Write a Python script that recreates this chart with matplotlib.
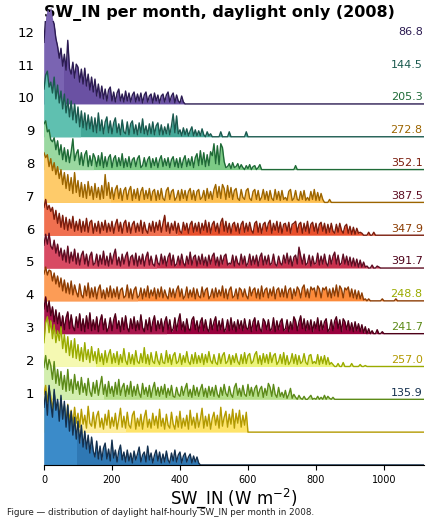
import numpy as np
import matplotlib.pyplot as plt
from matplotlib.patches import Rectangle

# SW_IN histograms, 5 W m-2 bins, daylight half-hours, 2008
BIN_W = 5
X_MAX = 1118

months = list(range(1, 13))
month_mean = [135.9, 257.0, 241.7, 248.8, 391.7, 347.9, 387.5, 352.1, 272.8, 205.3, 144.5, 86.8]
month_median = [94, 238, 174, 150, 360, 273, 330, 390, 194, 145, 106, 55]

# relative frequency per bin (33 = one ridge step)
freq_jan = [58, 74, 50, 80, 62, 48, 76, 55, 66, 44,
            70, 46, 64, 38, 60, 34, 54, 30, 48, 26,
            44, 22, 40, 18, 34, 16, 30, 12, 28, 14,
            8, 24, 6, 19, 5, 17, 22, 6, 16, 4,
            25, 7, 15, 3, 14, 20, 5, 13, 3, 15,
            4, 12, 2, 14, 5, 11, 18, 3, 10, 13,
            3, 19, 5, 12, 2, 10, 15, 4, 13, 2,
            11, 3, 14, 5, 2, 12, 4, 15, 3, 10,
            13, 2, 9, 12, 3, 8, 11, 2, 9, 3,
            8, 2]
freq_feb = [38, 47, 30, 44, 36, 22, 40, 18, 30, 14,
            34, 12, 26, 9, 28, 11, 22, 7, 25, 9,
            19, 5, 23, 8, 17, 4, 26, 9, 6, 20,
            4, 16, 21, 5, 14, 3, 18, 7, 22, 4,
            15, 6, 19, 3, 13, 24, 5, 16, 4, 20,
            7, 4, 17, 21, 3, 14, 6, 18, 3, 15,
            22, 5, 13, 4, 19, 7, 16, 4, 23, 6,
            14, 3, 18, 7, 4, 20, 8, 3, 16, 5,
            21, 4, 14, 6, 17, 3, 22, 7, 15, 4,
            19, 5, 13, 24, 4, 16, 6, 18, 3, 14,
            20, 7, 17, 4, 25, 6, 15, 21, 5, 18,
            8, 23, 4, 19, 9, 22, 5, 17, 7, 20]
freq_mar = [32, 44, 30, 40, 34, 20, 38, 16, 30, 14,
            28, 10, 24, 8, 30, 9, 20, 6, 25, 10,
            18, 5, 22, 7, 16, 4, 21, 8, 3, 17,
            6, 19, 4, 14, 23, 5, 15, 3, 18, 6,
            13, 3, 17, 5, 20, 4, 12, 16, 3, 14,
            5, 18, 3, 13, 4, 15, 6, 2, 16, 5,
            12, 3, 14, 2, 11, 17, 4, 12, 3, 13,
            5, 15, 2, 11, 4, 14, 3, 2, 12, 5,
            3, 13, 4, 11, 16, 3, 10, 2, 14, 4,
            12, 3, 10, 15, 3, 11, 2, 13, 4, 12,
            3, 14, 5, 2, 12, 4, 15, 6, 3, 13,
            5, 2, 12, 16, 4, 11, 3, 14, 5, 3,
            15, 4, 12, 3, 11, 14, 3, 10, 13, 2,
            11, 4, 16, 12, 3, 15, 5, 2, 12, 3,
            7, 2, 9, 1, 5, 11, 1, 5, 2, 0,
            4, 1, 0, 3, 0, 0, 2, 4, 0, 1,
            0, 3, 0, 2, 0, 4, 0, 3, 1, 0,
            2, 0]
freq_apr = [24, 44, 50, 34, 46, 28, 42, 24, 36, 26,
            40, 18, 32, 14, 30, 11, 26, 9, 28, 8,
            22, 6, 19, 5, 24, 7, 17, 4, 20, 6,
            15, 3, 18, 5, 13, 2, 16, 4, 12, 17,
            3, 13, 4, 15, 2, 12, 4, 18, 6, 2,
            14, 3, 12, 2, 16, 5, 3, 13, 4, 19,
            3, 12, 2, 14, 5, 3, 15, 6, 2, 13,
            4, 3, 16, 4, 12, 2, 11, 14, 3, 5,
            13, 2, 11, 4, 15, 5, 2, 12, 3, 14,
            3, 11, 4, 13, 2, 12, 4, 15, 6, 3,
            12, 4, 2, 13, 3, 11, 14, 3, 5, 12,
            2, 11, 4, 13, 5, 2, 12, 3, 14, 3,
            11, 13, 3, 5, 12, 15, 3, 11, 2, 13,
            4, 12, 3, 14, 4, 11, 13, 2, 5, 12,
            3, 14, 2, 11, 2, 5, 13, 3, 12, 2,
            11, 3, 5, 13, 4, 2, 11, 12, 3, 5,
            3, 12, 2, 10, 3, 11, 2, 9, 2, 4,
            2, 0, 0, 3, 0, 0, 4, 0, 0, 0,
            0, 3, 0, 0, 0, 0, 2, 0, 0, 1]
freq_may = [25, 37, 22, 33, 18, 27, 12, 24, 10, 21,
            6, 18, 4, 16, 22, 5, 19, 7, 3, 17,
            6, 20, 3, 15, 2, 18, 5, 21, 3, 14,
            4, 17, 2, 13, 19, 4, 15, 2, 6, 16,
            3, 14, 20, 5, 13, 2, 16, 4, 18, 6,
            2, 15, 5, 17, 3, 13, 4, 19, 6, 2,
            14, 4, 16, 2, 12, 18, 3, 13, 5, 15,
            2, 12, 17, 4, 14, 2, 5, 16, 3, 13,
            20, 4, 12, 2, 15, 5, 3, 14, 17, 4,
            13, 2, 12, 16, 3, 14, 5, 2, 15, 4,
            12, 17, 3, 13, 4, 15, 2, 5, 14, 3,
            16, 4, 12, 2, 14, 5, 13, 3, 15, 6,
            4, 14, 2, 12, 16, 3, 13, 5, 2, 15,
            12, 4, 14, 3, 5, 16, 2, 13, 4, 12,
            15, 3, 5, 14, 2, 12, 4, 17, 13, 3,
            12, 18, 5, 15, 3, 13, 4, 14, 2, 12,
            5, 16, 3, 13, 4, 12, 15, 2, 5, 14,
            3, 13, 17, 5, 14, 2, 15, 12, 4, 13,
            3, 11, 2, 12, 3, 10, 2, 9, 1, 7,
            0, 5, 0, 3, 0, 0, 4, 0, 0, 2]
freq_jun = [27, 34, 26, 31, 30, 20, 28, 17, 25, 14,
            23, 10, 21, 8, 18, 7, 20, 6, 16, 9,
            4, 17, 6, 3, 15, 5, 18, 3, 13, 4,
            14, 2, 12, 16, 3, 11, 2, 13, 4, 15,
            3, 12, 4, 14, 2, 11, 13, 3, 5, 16,
            3, 12, 2, 11, 14, 3, 5, 13, 2, 12,
            4, 15, 3, 11, 5, 13, 2, 12, 4, 14,
            3, 11, 5, 2, 13, 4, 12, 3, 11, 15,
            4, 12, 2, 5, 14, 3, 11, 4, 13, 2,
            12, 5, 3, 14, 4, 11, 13, 2, 5, 12,
            3, 13, 4, 11, 5, 15, 3, 12, 2, 11,
            14, 3, 5, 12, 2, 13, 11, 4, 12, 5,
            2, 14, 5, 11, 13, 3, 12, 2, 15, 4,
            11, 13, 3, 12, 5, 14, 2, 11, 13, 4,
            12, 4, 15, 3, 11, 13, 2, 12, 5, 14,
            11, 3, 13, 16, 4, 12, 3, 14, 11, 13,
            4, 15, 12, 3, 13, 11, 14, 4, 12, 3,
            13, 5, 16, 4, 15, 12, 3, 13, 11, 14,
            4, 12, 3, 11, 2, 10, 2, 8, 1, 2,
            0, 2, 0, 0, 0, 0, 0, 0, 0, 2,
            0, 0, 0, 0, 0, 0, 0, 2]
freq_jul = [23, 34, 24, 35, 22, 19, 28, 15, 24, 12,
            20, 8, 18, 6, 22, 5, 16, 7, 19, 4,
            15, 3, 13, 17, 4, 14, 2, 12, 16, 3,
            5, 14, 2, 13, 4, 17, 3, 12, 2, 15,
            4, 13, 19, 3, 11, 2, 14, 4, 12, 16,
            2, 11, 13, 3, 15, 2, 12, 4, 14, 2,
            11, 16, 3, 12, 4, 2, 13, 5, 3, 14,
            4, 12, 2, 11, 15, 3, 13, 2, 4, 12,
            3, 14, 5, 2, 12, 4, 16, 3, 11, 13,
            2, 12, 4, 14, 3, 11, 2, 13, 4, 12,
            15, 3, 11, 2, 13, 4, 12, 14, 3, 5,
            4, 13, 2, 12, 5, 3, 14, 4, 12, 2,
            5, 14, 3, 12, 4, 13, 2, 11, 15, 3,
            12, 4, 13, 3, 5, 14, 4, 2, 12, 5,
            3, 13, 5, 15, 4, 12, 2, 11, 13, 4,
            21, 12, 4, 14, 3, 5, 13, 2, 12, 4,
            5, 15, 3, 12, 4, 14, 5, 2, 13, 4,
            12, 16, 4, 13, 3, 5, 14, 4, 12, 3,
            11, 2, 10, 2, 9, 1, 8, 1, 6, 1,
            2, 0, 0, 3, 0, 0, 2, 1]
freq_aug = [28, 36, 26, 30, 24, 28, 16, 25, 12, 22,
            8, 20, 6, 18, 5, 16, 7, 19, 4, 14,
            5, 16, 3, 14, 4, 17, 3, 13, 15, 2,
            12, 4, 14, 2, 13, 5, 15, 3, 12, 4,
            14, 2, 11, 16, 4, 13, 2, 12, 15, 3,
            13, 2, 11, 14, 3, 12, 4, 15, 2, 13,
            5, 2, 12, 4, 14, 3, 13, 5, 15, 3,
            12, 20, 4, 13, 2, 12, 5, 14, 2, 12,
            4, 2, 13, 5, 12, 2, 11, 14, 3, 12,
            4, 13, 2, 12, 5, 15, 3, 13, 2, 11,
            14, 4, 12, 2, 13, 17, 4, 14, 3, 12,
            2, 11, 13, 4, 12, 2, 11, 14, 3, 12,
            4, 13, 5, 2, 12, 14, 3, 12, 2, 11,
            13, 4, 12, 15, 2, 12, 5, 14, 3, 13,
            2, 11, 12, 4, 13, 2, 11, 12, 14, 3,
            11, 13, 2, 12, 4, 14, 2, 11, 13, 4,
            12, 2, 11, 13, 4, 12, 2, 11, 3, 12,
            4, 2, 11, 3, 12, 5, 2, 9, 11, 2,
            9, 1, 8, 1, 7, 2, 3, 2, 0, 0,
            0, 3, 0, 0, 3]
freq_sep = [50, 45, 48, 36, 44, 32, 40, 28, 36, 24,
            33, 18, 30, 14, 28, 12, 25, 9, 30, 10,
            22, 6, 20, 5, 18, 4, 21, 7, 16, 3,
            19, 5, 15, 3, 17, 4, 28, 7, 20, 4,
            15, 3, 13, 17, 4, 14, 2, 12, 15, 3,
            12, 16, 2, 13, 4, 14, 2, 11, 15, 3,
            12, 4, 14, 2, 11, 13, 2, 12, 3, 14,
            4, 2, 12, 15, 3, 11, 13, 2, 5, 12,
            2, 13, 4, 12, 2, 11, 14, 3, 12, 2,
            11, 13, 3, 5, 12, 2, 14, 4, 11, 3,
            13, 18, 5, 16, 4, 18, 14, 3, 17, 5,
            15, 3, 12, 14, 4, 2, 13, 5, 3, 12,
            14, 4, 2, 11, 13, 3, 12, 2, 5, 13,
            3, 11, 2, 12, 4, 2, 13, 3, 11, 2,
            12, 3, 5, 2, 11, 13, 2, 4, 12, 3,
            2, 11, 3, 12, 2, 5, 2, 11, 3, 13,
            2, 10, 2, 9, 3, 0, 0, 0, 3]
freq_oct = [46, 49, 38, 40, 30, 28, 32, 20, 29, 15,
            25, 10, 22, 8, 20, 7, 18, 31, 9, 16,
            20, 5, 17, 4, 15, 19, 3, 14, 4, 16,
            12, 3, 14, 4, 17, 2, 13, 3, 12, 15,
            2, 11, 14, 3, 12, 4, 16, 2, 11, 3,
            13, 2, 10, 12, 3, 11, 14, 2, 4, 12,
            3, 10, 13, 2, 11, 4, 12, 2, 10, 14,
            3, 11, 4, 12, 2, 10, 13, 3, 11, 2,
            12, 2, 10, 14, 3, 11, 4, 13, 2, 12,
            16, 4, 19, 5, 17, 3, 15, 4, 18, 14,
            26, 6, 24, 5, 26, 22, 8, 2, 3, 6,
            1, 7, 2, 3, 6, 1, 5, 2, 0, 4,
            1, 5, 0, 3, 4, 0, 2, 5, 0, 0,
            0, 0, 0, 0, 0, 0, 0, 0, 0, 0,
            0, 0, 0, 0, 0, 0, 0, 0, 4]
freq_nov = [48, 62, 66, 50, 55, 44, 60, 38, 52, 34,
            46, 28, 43, 24, 38, 20, 36, 17, 33, 14,
            30, 10, 26, 9, 24, 7, 22, 8, 20, 5,
            19, 4, 24, 6, 17, 3, 15, 20, 4, 16,
            3, 14, 19, 4, 13, 2, 17, 5, 3, 15,
            2, 13, 16, 3, 12, 2, 14, 4, 18, 3,
            11, 2, 13, 3, 15, 2, 11, 14, 2, 12,
            2, 10, 3, 13, 2, 11, 23, 4, 21, 3,
            7, 1, 9, 2, 8, 1, 6, 10, 1, 7,
            1, 6, 1, 8, 2, 0, 5, 1, 3, 0,
            0, 0, 0, 0, 5, 0, 0, 0, 0, 5,
            0, 0, 0, 0, 0, 0, 0, 0, 0, 5]
freq_dec = [62, 88, 96, 92, 98, 86, 80, 66, 58, 46,
            56, 38, 50, 34, 64, 36, 30, 42, 26, 40,
            37, 22, 35, 20, 36, 18, 30, 14, 27, 12,
            25, 8, 20, 6, 18, 5, 15, 3, 14, 17,
            3, 12, 2, 11, 15, 3, 10, 2, 13, 3,
            11, 2, 9, 12, 2, 10, 3, 11, 1, 9,
            12, 2, 8, 10, 1, 11, 3, 9, 1, 8,
            10, 2, 9, 12, 2, 8, 11, 1, 9, 3,
            1, 8, 2]

freqs = [freq_jan, freq_feb, freq_mar, freq_apr, freq_may, freq_jun,
         freq_jul, freq_aug, freq_sep, freq_oct, freq_nov, freq_dec]

fill_dark = ['#2f78b4', '#fee46a', '#b6df88', '#ecf47a', '#99003d', '#fc8a3a',
             '#c9304d', '#e9502c', '#fdbf50', '#7ccb85', '#43a898', '#6a51a3']
fill_light = ['#3b8bc9', '#feee9e', '#d2eeae', '#f5f9b2', '#a8164c', '#fc9c56',
              '#d84a63', '#f07050', '#fecb6a', '#9ad8a0', '#5fc0b0', '#7a64b2']
line_col = ['#14304e', '#b39a00', '#5c8a18', '#9aab00', '#4d0018', '#8c3d04',
            '#5e0d22', '#7a1c0c', '#9c6500', '#1f6b37', '#1b5a4f', '#2c1c52']

STEP = 33.0
LABEL_OFF = 2.2

fig = plt.figure(figsize=(4.31, 5.23), dpi=100)
ax = fig.add_axes([0.102, 0.111, 0.882, 0.849])

for j, f in enumerate(freqs):
    h = np.array(f, dtype=float) / STEP
    x = np.arange(len(h)) * BIN_W
    x = np.append(x, [x[-1] + BIN_W, X_MAX])
    h = np.append(h, [0, 0])
    z = 40 - 3 * j
    ax.fill_between(x, j, j + h, color=fill_dark[j], lw=0, zorder=z)
    lt = ax.fill_between(x, j, j + h, color=fill_light[j], lw=0, zorder=z)
    lt.set_clip_path(Rectangle((0, j), month_median[j], 20, transform=ax.transData))
    ax.plot(x, j + h, color=line_col[j], lw=1.0, zorder=z + 1)
    ax.text(X_MAX - 4, j + LABEL_OFF, f"{month_mean[j]:.1f}", ha='right', va='center',
            color=line_col[j], fontsize=8, zorder=60)

ax.set_xlim(0, X_MAX)
ax.set_ylim(0, 13.53)
ax.set_yticks([j + LABEL_OFF for j in range(12)])
ax.set_yticklabels([str(m) for m in months], fontsize=9.5)
ax.tick_params(axis='y', length=0, pad=7)
ax.set_xticks([0, 200, 400, 600, 800, 1000])
ax.tick_params(axis='x', labelsize=7, length=3.5, width=0.8)
for s in ['top', 'right', 'left']:
    ax.spines[s].set_visible(False)
ax.spines['bottom'].set_zorder(70)

ax.set_xlabel("SW_IN (W m$^{-2}$)", fontsize=12, labelpad=1)
ax.set_title("SW_IN per month, daylight only (2008)", loc='left', fontsize=11.5,
             fontweight='bold', pad=3)
fig.text(0.016, 0.016, "Figure — distribution of daylight half-hourly SW_IN per month in 2008.",
         fontsize=6.3, color='#222222')

fig.savefig("out.png", dpi=100)
